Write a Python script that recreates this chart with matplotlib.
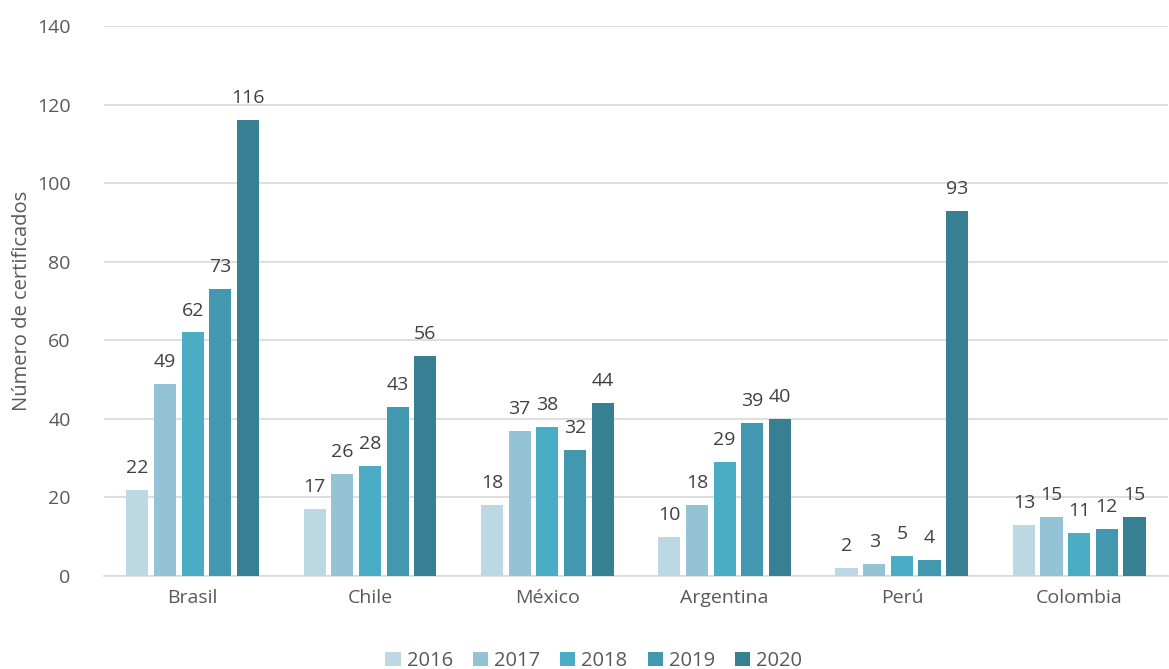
import matplotlib
matplotlib.use("Agg")
import matplotlib.pyplot as plt
import numpy as np

countries = ["Brasil", "Chile", "México", "Argentina", "Perú", "Colombia"]
years = ["2016", "2017", "2018", "2019", "2020"]
v2016 = [22, 17, 18, 10, 2, 13]
v2017 = [49, 26, 37, 18, 3, 15]
v2018 = [62, 28, 38, 29, 5, 11]
v2019 = [73, 43, 32, 39, 4, 12]
v2020 = [116, 56, 44, 40, 93, 15]
series = [v2016, v2017, v2018, v2019, v2020]
colors = ["#BCD8E3", "#93C3D4", "#4BACC6", "#4298AF", "#377F93"]

plt.rcParams['font.family'] = ['Open Sans', 'DejaVu Sans']
fig = plt.figure(figsize=(11.69, 6.69), dpi=100)
ax = fig.add_axes([0.089, 0.139, 0.91, 0.822])

x = np.arange(len(countries))
step = 0.156
width = 0.125
for i, (vals, c, yr) in enumerate(zip(series, colors, years)):
    pos = x + (i - 2) * step
    bars = ax.bar(pos, vals, width, color=c, label=yr, zorder=3)
    for b, v in zip(bars, vals):
        ax.text(b.get_x() + b.get_width() / 2, v + 3.3, str(v), ha='center', va='bottom',
                fontsize=14, color='#404040')

ax.set_xlim(-0.5, len(countries) - 0.5)
ax.set_ylim(0, 140)
ax.set_yticks(range(0, 141, 20))
ax.yaxis.grid(True, color='#D9D9D9', linewidth=1.2, zorder=0)
ax.set_axisbelow(True)
for s in ['top', 'right', 'left']:
    ax.spines[s].set_visible(False)
ax.spines['bottom'].set_color('#D9D9D9')
ax.spines['bottom'].set_linewidth(1.2)
ax.tick_params(axis='both', length=0, labelsize=14, colors='#595959', pad=9)
ax.tick_params(axis='y', pad=24)
ax.set_xticks(x)
ax.set_xticklabels(countries)
ax.set_ylabel("Número de certificados", fontsize=14.5, color='#595959', labelpad=4)

leg = fig.legend(loc='lower center', ncol=5, frameon=False, bbox_to_anchor=(0.508, -0.03),
                 fontsize=14.5, handlelength=0.75, handleheight=0.75, handletextpad=0.3,
                 columnspacing=1.0)
for t in leg.get_texts():
    t.set_color('#595959')

fig.savefig("out.png", dpi=100)
